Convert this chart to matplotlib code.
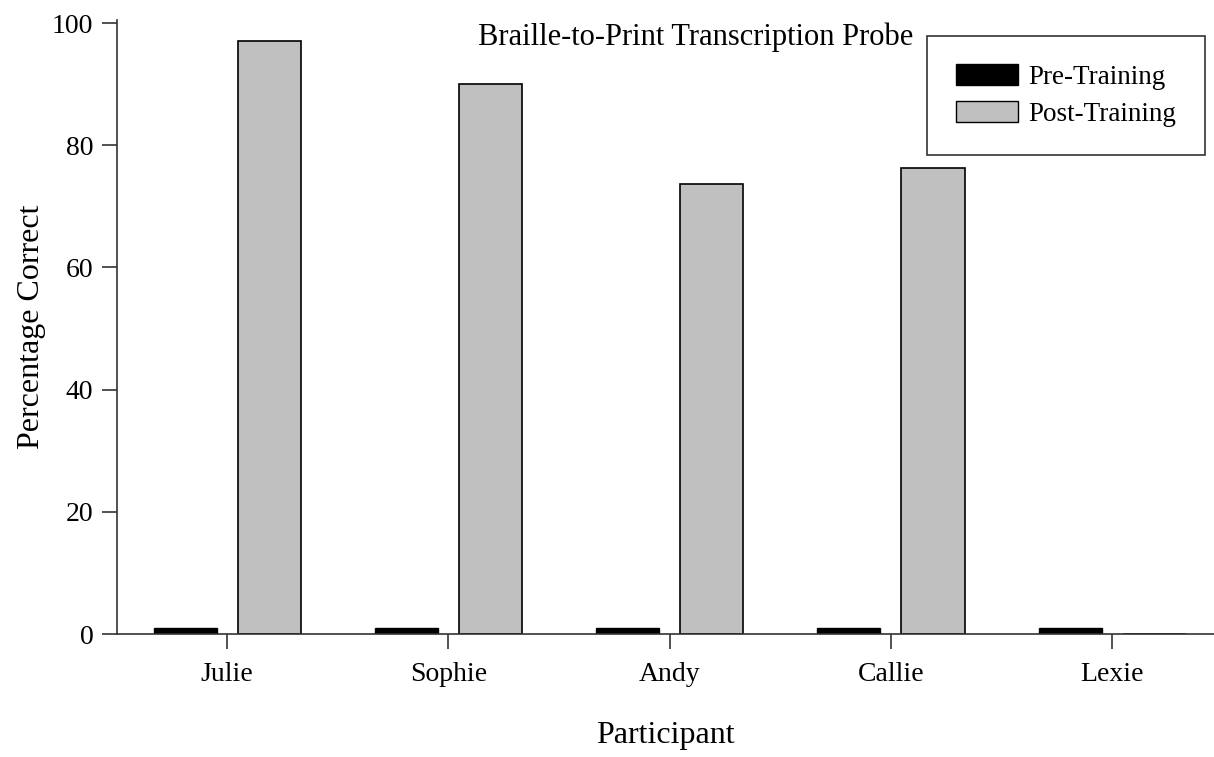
import numpy as np
import matplotlib
matplotlib.use('Agg')
import matplotlib.pyplot as plt
from matplotlib.patches import Patch

participants = ['Julie', 'Sophie', 'Andy', 'Callie', 'Lexie']
pre_training = [1, 1, 1, 1, 1]
post_training = [97, 90, 73.7, 76.3, 0]

plt.rcParams['font.family'] = ['Liberation Serif', 'DejaVu Serif']

fig = plt.figure(figsize=(12.14, 7.57), dpi=100)
ax = fig.add_axes([117 / 1214, 123 / 757, (1214 - 117) / 1214, (634 - 20) / 757])

x = np.arange(len(participants))
w = 0.285
off = 0.19
ax.bar(x - off, pre_training, w, color='black', edgecolor='black', linewidth=1.0)
ax.bar(x + off, post_training, w, color='#c0c0c0', edgecolor='black', linewidth=1.2)

ax.set_xlim(-0.498, 4.46)
ax.set_ylim(0, 100.5)
ax.set_yticks([0, 20, 40, 60, 80, 100])
ax.set_xticks(x)
ax.set_xticklabels(participants)
ax.tick_params(axis='both', direction='out', length=11, width=1.2, labelsize=20, color='#333')
ax.tick_params(axis='x', pad=9)
ax.tick_params(axis='y', pad=6)

for s in ('top', 'right'):
    ax.spines[s].set_visible(False)
for s in ('left', 'bottom'):
    ax.spines[s].set_linewidth(1.2)
    ax.spines[s].set_color('#333')

ax.set_ylabel('Percentage Correct', fontsize=23)
ax.yaxis.set_label_coords(-0.065, 0.5)
ax.set_xlabel('Participant', fontsize=23)
ax.xaxis.set_label_coords(0.5, -0.1417)

fig.text(696 / 1214, 1 - 37 / 757, 'Braille-to-Print Transcription Probe',
         ha='center', va='center', fontsize=22)

handles = [Patch(facecolor='black', edgecolor='black'),
           Patch(facecolor='#c0c0c0', edgecolor='black')]
leg = ax.legend(handles, ['Pre-Training', 'Post-Training'], fontsize=19.5,
                loc='upper right', bbox_to_anchor=(1205 / 1214, 1 - 36 / 757),
                bbox_transform=fig.transFigure, fancybox=False, frameon=True,
                handlelength=2.3, handleheight=0.8, handletextpad=0.4,
                borderpad=1.05, labelspacing=0.4, borderaxespad=0)
leg.get_frame().set_edgecolor('black')
leg.get_frame().set_linewidth(1.2)

fig.savefig('out.png', dpi=100)
